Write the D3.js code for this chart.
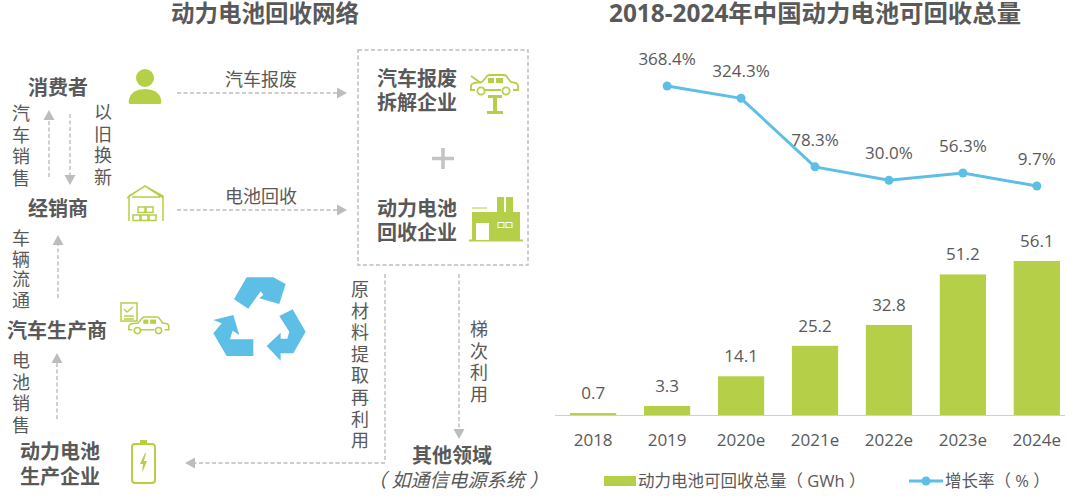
<!DOCTYPE html>
<html>
<head>
<meta charset="utf-8">
<script src="https://cdnjs.cloudflare.com/ajax/libs/d3/7.8.5/d3.min.js"></script>
<style>
  html, body { margin: 0; padding: 0; background: #fff; }
  text { font-family: "Open Sans", "Noto Sans CJK SC", sans-serif; fill: #595959; }
</style>
</head>
<body>
<svg id="chart" width="1080" height="503"></svg>
<script>
// chart data
var years = ["2018", "2019", "2020e", "2021e", "2022e", "2023e", "2024e"];
var totals = [0.7, 3.3, 14.1, 25.2, 32.8, 51.2, 56.1];
var growth = [null, 368.4, 324.3, 78.3, 30.0, 56.3, 9.7];

var green = "#b5cf48", blue = "#5dbfe6", grey = "#bdbdbd";
var svg = d3.select("#chart");

// ---- helpers for the left diagram
function label(x, y, str, size, bold, anchor) {
  return svg.append("text").attr("x", x).attr("y", y).attr("font-size", size)
    .attr("font-weight", bold ? 700 : 400).attr("text-anchor", anchor || "middle").text(str);
}
function vertical(x, y, str, step) {
  var t = svg.append("text").attr("font-size", 18).attr("text-anchor", "middle");
  Array.from(str).forEach(function (c, i) {
    t.append("tspan").attr("x", x).attr("y", y + i * step).text(c);
  });
}
function arrow(x1, y1, x2, y2, noHead) {
  svg.append("line").attr("x1", x1).attr("y1", y1).attr("x2", x2).attr("y2", y2)
    .attr("stroke", grey).attr("stroke-width", 1.4).attr("stroke-dasharray", "4 2.5");
  if (noHead) return;
  var a = Math.atan2(y2 - y1, x2 - x1) * 180 / Math.PI;
  svg.append("path").attr("d", "M5,0L-5,-5.5L-5,5.5Z").attr("fill", grey)
    .attr("transform", "translate(" + x2 + "," + y2 + ") rotate(" + a + ")");
}
function carBody(g, x, y) {
  g.append("path").attr("fill", "none").attr("stroke", green).attr("stroke-width", 1.8)
    .attr("d", "M" + (x + 1) + "," + (y + 15) + "v-4q0,-2 3,-3l8,-1l5,-6q1,-1 3,-1h14q2,0 3,2l4,5l5,1q2,1 2,3v4h-5"
      + "m-31,0h19m-26,0h-5");
  g.append("circle").attr("cx", x + 11).attr("cy", y + 16).attr("r", 3.6).attr("fill", "#fff").attr("stroke", green).attr("stroke-width", 1.8);
  g.append("circle").attr("cx", x + 36).attr("cy", y + 16).attr("r", 3.6).attr("fill", "#fff").attr("stroke", green).attr("stroke-width", 1.8);
  g.append("rect").attr("x", x + 18).attr("y", y + 3).attr("width", 6).attr("height", 5).attr("fill", green);
  g.append("rect").attr("x", x + 26).attr("y", y + 3).attr("width", 7).attr("height", 5).attr("fill", green);
}

// ---- titles
label(265, 22, "动力电池回收网络", 23.5, true);
label(815, 22, "2018-2024年中国动力电池可回收总量", 24.4, true);

// ---- left column
label(58, 95, "消费者", 20, true);
label(58, 216, "经销商", 20, true);
label(57, 338, "汽车生产商", 20, true);
label(60, 459, "动力电池", 20, true);
label(60, 484, "生产企业", 20, true);

vertical(21, 120, "汽车销售", 21.5);
vertical(103, 119, "以旧换新", 21.5);
vertical(21, 245, "车辆流通", 20.5);
vertical(21, 367, "电池销售", 21.5);

arrow(49, 177, 49, 115);
arrow(70, 114, 70, 180);
arrow(58, 298, 58, 240);
arrow(57, 419, 57, 358);

// ---- middle labels and arrows
label(261, 86, "汽车报废", 18, false);
label(261, 203, "电池回收", 18, false);
arrow(177, 93, 342, 93);
arrow(177, 210, 342, 210);

// ---- dashed box
svg.append("rect").attr("x", 358).attr("y", 50).attr("width", 170).attr("height", 215)
  .attr("fill", "none").attr("stroke", grey).attr("stroke-width", 1.5).attr("stroke-dasharray", "4 2.5");
label(417, 86, "汽车报废", 20, true);
label(417, 110, "拆解企业", 20, true);
label(417, 216, "动力电池", 20, true);
label(417, 240, "回收企业", 20, true);
svg.append("path").attr("d", "M443,148v21M432,158.5h22").attr("stroke", "#c4c4c4").attr("stroke-width", 3.5);

// ---- lower flows
arrow(385, 274, 385, 463, true);
arrow(385, 463, 190, 463);
arrow(459, 274, 459, 434);
vertical(360, 296, "原材料提取再利用", 21.6);
vertical(479, 336, "梯次利用", 21.5);
label(452, 463, "其他领域", 20, true);
label(458, 487, "（ 如通信电源系统 ）", 19, false).attr("font-style", "italic");

// ---- person icon
var person = svg.append("g");
person.append("circle").attr("cx", 145).attr("cy", 78).attr("r", 9).attr("fill", green);
person.append("path").attr("fill", green).attr("d", "M130,104q-2,0 -1,-5q3,-10 16,-10q13,0 16,10q1,5 -1,5Z");

// ---- warehouse icon
var depot = svg.append("g").attr("fill", "none").attr("stroke", green).attr("stroke-width", 1.5);
depot.append("path").attr("d", "M129,221V196L145,186L163,196V221M127,198L145,186L163,198M132,197H160");
depot.selectAll("rect").data(["133,215", "141,215", "149,215", "138,207", "146,207"]).enter().append("rect")
  .attr("x", function (d) { return +d.split(",")[0]; }).attr("y", function (d) { return +d.split(",")[1]; })
  .attr("width", 7).attr("height", 5.5);

// ---- document + car icon
var maker = svg.append("g");
maker.append("rect").attr("x", 121).attr("y", 303).attr("width", 16).attr("height", 18).attr("fill", "#fff").attr("stroke", green).attr("stroke-width", 1.5);
maker.append("path").attr("fill", "none").attr("stroke", green).attr("stroke-width", 1.3).attr("d", "M124,309l3,3l6,-5M124,316h10M124,319h10");
carBody(maker.append("g").attr("transform", "translate(128,317) scale(0.85)"), 0, 0);

// ---- battery icon
var batt = svg.append("g");
batt.append("rect").attr("x", 132).attr("y", 444).attr("width", 23).attr("height", 39).attr("rx", 3).attr("fill", "none").attr("stroke", green).attr("stroke-width", 2);
batt.append("rect").attr("x", 140).attr("y", 440).attr("width", 7).attr("height", 3).attr("fill", green);
batt.append("path").attr("fill", green).attr("d", "M145,453l-5,11h3l-1,9l5,-12h-3l2,-8Z");

// ---- car lift icon
var lift = svg.append("g");
carBody(lift, 470, 75);
lift.append("path").attr("fill", "none").attr("stroke", green).attr("stroke-width", 1.8).attr("d", "M471,76l10,7");
lift.append("path").attr("fill", green).attr("d", "M488,95h14v3h-5v13h6v3h-16v-3h6v-13h-5Z");

// ---- factory icon
var plant = svg.append("g");
plant.append("path").attr("fill", green).attr("d", "M472,212h25v-15h7v15h2v-15h7v15h7v28h-48Z");
plant.append("path").attr("stroke", green).attr("stroke-width", 2).attr("d", "M469,240.5H523");
plant.append("path").attr("stroke", green).attr("stroke-width", 1).attr("d", "M472,208H487");
plant.append("rect").attr("x", 476).attr("y", 223).attr("width", 13).attr("height", 17).attr("fill", "#fff");
plant.selectAll("rect.win").data([498, 506]).enter().append("rect").attr("class", "win")
  .attr("x", function (d) { return d; }).attr("y", 222.5).attr("width", 6).attr("height", 5)
  .attr("fill", "none").attr("stroke", "#fff").attr("stroke-width", 1);

// ---- recycle symbol, traced at 3x
var recycle = svg.append("g").attr("fill", blue).attr("transform", "translate(0,270) scale(0.3333)");
recycle.append("path").attr("d", "M702,88L740,22H820L857,42L838,102L778,85L790,74L782,64L745,116Z");
recycle.append("path").attr("d", "M838,138L878,118L917,185L880,250H842V272L800,228L842,188V206H862L868,185Z");
recycle.append("path").attr("d", "M640,150L700,135L718,195L698,182L690,208H760V258H680L640,190L665,160Z");

// ---- right chart: bars
var x = d3.scaleBand().domain(years).range([556, 1074]).paddingInner(0.375).paddingOuter(0.19);
var yBar = d3.scaleLinear().domain([0, 56.1]).range([415, 261]);
var yLine = d3.scaleLinear().domain([0, 368.4]).range([188.7, 86]);

svg.append("g").selectAll("rect").data(totals).enter().append("rect")
  .attr("x", function (d, i) { return x(years[i]); })
  .attr("y", function (d) { return yBar(d); })
  .attr("width", x.bandwidth())
  .attr("height", function (d) { return yBar(0) - yBar(d); })
  .attr("fill", green);

svg.append("line").attr("x1", 555).attr("x2", 1065).attr("y1", 415.5).attr("y2", 415.5).attr("stroke", "#d0d0d0").attr("stroke-width", 1.2);

svg.append("g").selectAll("text").data(totals).enter().append("text")
  .attr("x", function (d, i) { return x(years[i]) + x.bandwidth() / 2; })
  .attr("y", function (d) { return yBar(d) - 14; })
  .attr("text-anchor", "middle").attr("font-size", 17)
  .text(function (d) { return d.toFixed(1); });

svg.append("g").selectAll("text").data(years).enter().append("text")
  .attr("x", function (d) { return x(d) + x.bandwidth() / 2; })
  .attr("y", 446).attr("text-anchor", "middle").attr("font-size", 17)
  .text(function (d) { return d; });

// ---- right chart: growth line
var line = d3.line().defined(function (d) { return d !== null; })
  .x(function (d, i) { return x(years[i]) + x.bandwidth() / 2; })
  .y(function (d) { return yLine(d); });
svg.append("path").datum(growth).attr("d", line).attr("fill", "none").attr("stroke", blue).attr("stroke-width", 3);

var pts = growth.map(function (d, i) { return { v: d, year: years[i] }; }).filter(function (d) { return d.v !== null; });
svg.append("g").selectAll("circle").data(pts).enter().append("circle")
  .attr("cx", function (d) { return x(d.year) + x.bandwidth() / 2; })
  .attr("cy", function (d) { return yLine(d.v); })
  .attr("r", 4.5).attr("fill", blue);
svg.append("g").selectAll("text").data(pts).enter().append("text")
  .attr("x", function (d) { return x(d.year) + x.bandwidth() / 2; })
  .attr("y", function (d) { return yLine(d.v) - 21; })
  .attr("text-anchor", "middle").attr("font-size", 17)
  .text(function (d) { return d.v.toFixed(1) + "%"; });

// ---- legend
svg.append("rect").attr("x", 604).attr("y", 476).attr("width", 32).attr("height", 10).attr("fill", green);
label(638, 487, "动力电池可回收总量（ GWh ）", 16.5, false, "start");
svg.append("line").attr("x1", 909).attr("x2", 943).attr("y1", 481).attr("y2", 481).attr("stroke", blue).attr("stroke-width", 3);
svg.append("circle").attr("cx", 926).attr("cy", 481).attr("r", 4.5).attr("fill", blue);
label(945, 487, "增长率（ % ）", 16.5, false, "start");
</script>
</body>
</html>
